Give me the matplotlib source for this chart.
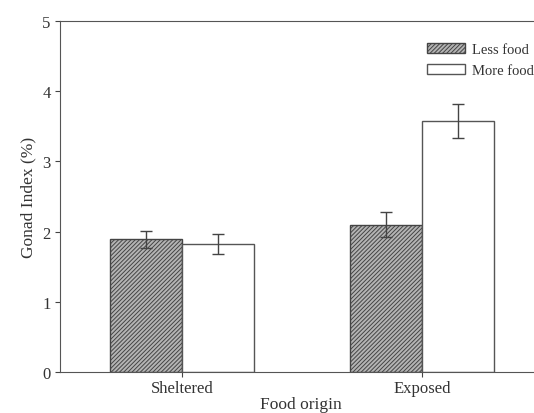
import matplotlib
matplotlib.use("Agg")
import matplotlib.pyplot as plt
import numpy as np

# values
origins = ["Sheltered", "Exposed"]
less_food = [1.89, 2.10]
less_err = [0.12, 0.18]
more_food = [1.82, 3.57]
more_err = [0.14, 0.24]

plt.rcParams['font.family'] = ['Liberation Serif', 'DejaVu Serif']
plt.rcParams['hatch.color'] = '#505050'
plt.rcParams['hatch.linewidth'] = 0.7

fig = plt.figure(figsize=(5.34, 4.14), dpi=100)
ax = fig.add_axes([0.113, 0.099, 0.9, 0.848])

x = np.arange(len(origins))
w = 0.3
ax.bar(x - w / 2, less_food, w, yerr=less_err, color='#b4b4b4', edgecolor='#444444',
       hatch='////////', linewidth=1.0, capsize=4,
       error_kw=dict(ecolor='#444444', elinewidth=1.0, capthick=1.0), label='Less food')
ax.bar(x + w / 2, more_food, w, yerr=more_err, color='white', edgecolor='#555555',
       linewidth=1.0, capsize=4,
       error_kw=dict(ecolor='#444444', elinewidth=1.0, capthick=1.0), label='More food')

ax.set_xlim(-0.506, 1.496)
ax.set_ylim(0, 5)
ax.set_yticks(range(6))
ax.set_xticks(x)
ax.set_xticklabels(origins)
ax.tick_params(direction='out', colors='#444444', labelcolor='#333333', labelsize=12)
ax.tick_params(axis='x', pad=2)
for s in ax.spines.values():
    s.set_color('#555555')

ax.set_ylabel("Gonad Index (%)", fontsize=12.5, color='#333333')
ax.set_xlabel("Food origin", fontsize=12.5, color='#333333', labelpad=0)

ax.legend(loc='upper left', bbox_to_anchor=(0.735, 0.975), frameon=False, fontsize=10.5,
          handlelength=2.6, handleheight=0.7, handletextpad=0.5, labelspacing=0.55,
          labelcolor='#333333')

fig.savefig("out.png", dpi=100)
